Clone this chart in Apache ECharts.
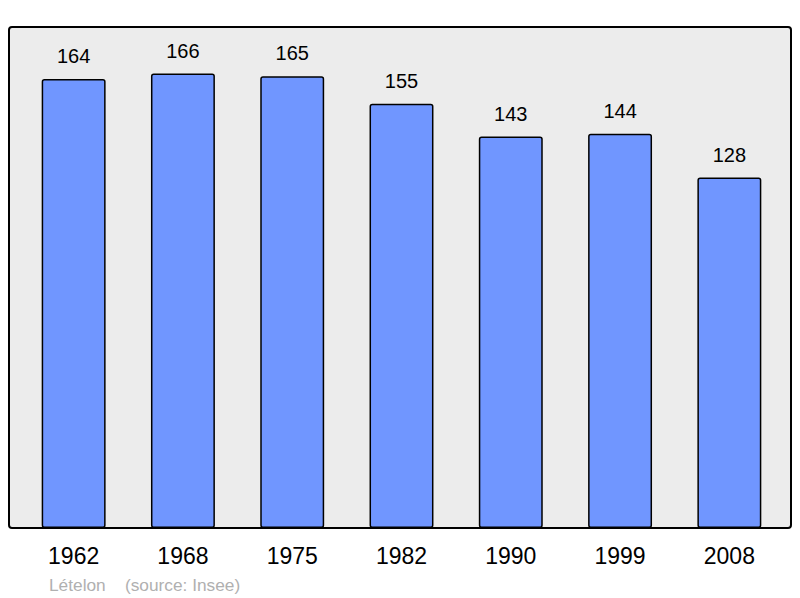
<!DOCTYPE html>
<html><head><meta charset="utf-8">
<script src="https://cdn.jsdelivr.net/npm/echarts@6/dist/echarts.min.js"></script>
<style>html,body{margin:0;padding:0;background:#fff}#c{width:800px;height:598px}</style>
</head><body><div id="c"></div>
<script>
const years = ['1962','1968','1975','1982','1990','1999','2008'];
const population = [164,166,165,155,143,144,128];
const footer = 'Lételon    (source: Insee)';
const chart = echarts.init(document.getElementById('c'), null, {renderer:'svg'});
chart.setOption({
  animation:false,
  backgroundColor:'#fff',
  graphic:[
    {type:'rect', z:-10, shape:{x:9,y:27,width:782,height:501,r:3}, style:{fill:'#ececec',stroke:'#000',lineWidth:2}},
    {type:'text', left:49, top:576, style:{text:footer, fill:'#b0b0b0', font:'17.3px "Liberation Sans", Arial, sans-serif'}}
  ],
  grid:{left:19, right:16, top:27, bottom:70},
  xAxis:{type:'category', data:years, axisLine:{show:false}, axisTick:{show:false},
    axisLabel:{color:'#000', fontSize:23, fontFamily:'"Liberation Sans", Arial, sans-serif', margin:16}},
  yAxis:{type:'value', min:0, max:183, show:false, splitLine:{show:false}},
  series:[{type:'bar', data:population, barWidth:'58.5%',
    itemStyle:{color:'#7096ff', borderColor:'#000', borderWidth:1.5, borderRadius:2},
    label:{show:true, position:'top', distance:13, color:'#000', fontSize:20, fontFamily:'"Liberation Sans", Arial, sans-serif'}}]
});
</script></body></html>
